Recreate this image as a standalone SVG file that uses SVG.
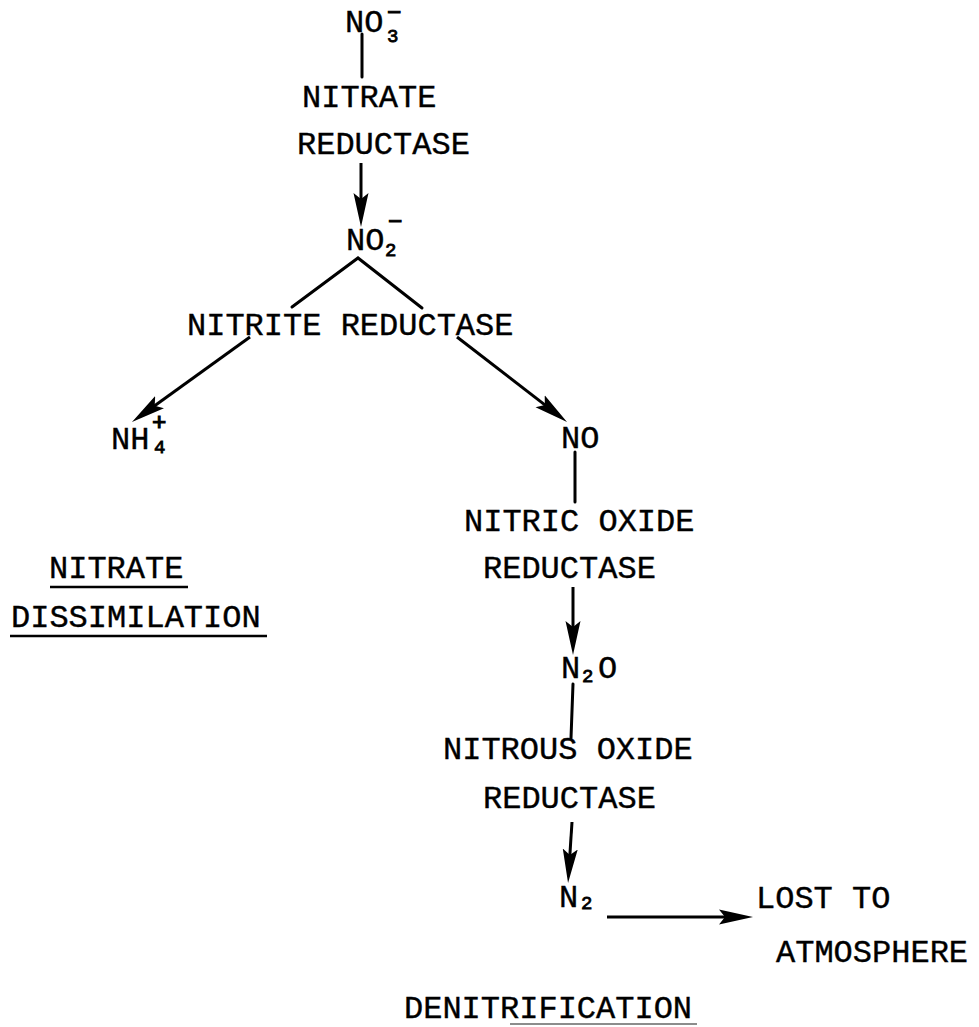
<svg xmlns="http://www.w3.org/2000/svg" width="979" height="1027" viewBox="0 0 979 1027">
<style>
  text { font-family: "Liberation Mono", "Courier New", monospace; font-size: 32px; fill: #000; stroke: #000; stroke-width: 0.4px; }
  .sub { font-size: 19px; stroke-width: 0.8px; }
  .sup { font-size: 24px; stroke-width: 1.2px; }
  .ln { stroke: #000; stroke-width: 3; fill: none; stroke-linecap: round; }
  .ar { stroke: #000; stroke-width: 3; fill: none; marker-end: url(#ah); }
  .ul { stroke: #000; stroke-width: 2.5; }
</style>
<defs>
  <marker id="ah" markerUnits="userSpaceOnUse" markerWidth="36" markerHeight="18" refX="24" refY="9" orient="auto">
    <path d="M0,1.5 L34,9 L0,16.5 L6,9 z" fill="#000"/>
  </marker>
</defs>
<rect width="979" height="1027" fill="#fff"/>

<g id="connectors">
  <line class="ln" x1="362" y1="34" x2="362" y2="77"/>
  <line class="ar" x1="361" y1="163" x2="361" y2="217"/>
  <polyline class="ln" points="292,307 358,258 422,308"/>
  <line class="ar" x1="250" y1="337" x2="140.1" y2="416.2"/>
  <line class="ar" x1="457" y1="337" x2="559.1" y2="415.9"/>
  <line class="ln" x1="575" y1="452" x2="575" y2="502"/>
  <line class="ar" x1="573" y1="587" x2="573" y2="645"/>
  <line class="ln" x1="573" y1="684" x2="571" y2="738"/>
  <line class="ar" x1="572" y1="822" x2="568.7" y2="873"/>
  <line class="ar" x1="607" y1="917" x2="743" y2="917"/>
</g>

<g id="no3">
  <text x="345" y="32">NO</text>
  <text class="sub" x="387" y="42">3</text>
  <text class="sup" x="387" y="20">−</text>
</g>
<g id="nitrate-reductase">
  <text x="302" y="107">NITRATE</text>
  <text x="297" y="154">REDUCTASE</text>
</g>
<g id="no2">
  <text x="346" y="250">NO</text>
  <text class="sub" x="385" y="256">2</text>
  <text class="sup" x="388" y="229">−</text>
</g>
<g id="nitrite-reductase">
  <text x="187" y="335">NITRITE REDUCTASE</text>
</g>
<g id="nh4">
  <text x="111" y="449">NH</text>
  <text class="sub" x="154" y="453">4</text>
  <text class="sup" x="152" y="430">+</text>
</g>
<g id="no">
  <text x="561" y="448">NO</text>
</g>
<g id="nitric-oxide-reductase">
  <text x="464" y="531">NITRIC OXIDE</text>
  <text x="483" y="578">REDUCTASE</text>
</g>
<g id="n2o">
  <text x="561" y="678">N</text>
  <text class="sub" x="582" y="682">2</text>
  <text x="598" y="678">O</text>
</g>
<g id="nitrous-oxide-reductase">
  <text x="443" y="759">NITROUS OXIDE</text>
  <text x="483" y="808">REDUCTASE</text>
</g>
<g id="n2">
  <text x="559" y="907">N</text>
  <text class="sub" x="581" y="909">2</text>
</g>
<g id="lost-to-atmosphere">
  <text x="756" y="908">LOST TO</text>
  <text x="776" y="962">ATMOSPHERE</text>
</g>
<g id="nitrate-dissimilation">
  <text x="49" y="578">NITRATE</text>
  <line class="ul" x1="50" y1="587" x2="188" y2="587"/>
  <text x="11" y="627">DISSIMILATION</text>
  <line class="ul" x1="10" y1="636" x2="267" y2="636"/>
</g>
<g id="denitrification">
  <text x="404" y="1018">DENITRIFICATION</text>
  <line x1="510" y1="1024" x2="697" y2="1024" stroke="#666" stroke-width="1.5"/>
</g>
</svg>
